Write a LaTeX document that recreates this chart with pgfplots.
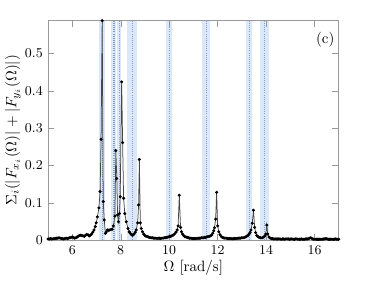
\documentclass[border=0pt]{standalone}
\usepackage{pgfplots}
\usepackage{pgfplotstable}
\pgfplotsset{compat=1.18}
\definecolor{bandblue}{RGB}{218,232,249}
\definecolor{dotblue}{RGB}{140,158,190}
\pgfplotstableread{
x y
5.00 0.003
5.05 0.003
5.10 0.004
5.15 0.003
5.20 0.003
5.25 0.004
5.30 0.004
5.35 0.005
5.40 0.005
5.45 0.006
5.50 0.005
5.55 0.004
5.60 0.004
5.65 0.003
5.70 0.004
5.75 0.005
5.80 0.004
5.85 0.005
5.90 0.006
5.95 0.007
6.00 0.008
6.05 0.007
6.10 0.005
6.15 0.006
6.20 0.008
6.25 0.010
6.30 0.012
6.35 0.013
6.40 0.012
6.45 0.011
6.50 0.010
6.55 0.013
6.60 0.015
6.65 0.014
6.70 0.011
6.75 0.013
6.80 0.016
6.85 0.021
6.90 0.027
6.95 0.036
6.99 0.046
7.04 0.062
7.10 0.086
7.15 0.130
7.19 0.270
7.236 0.588
7.28 0.103
7.32 0.054
7.37 0.018
7.41 0.022
7.45 0.027
7.50 0.026
7.55 0.027
7.60 0.028
7.65 0.029
7.70 0.038
7.76 0.064
7.80 0.240
7.84 0.165
7.87 0.067
7.91 0.049
7.95 0.071
7.98 0.116
8.04 0.424
8.08 0.261
8.12 0.112
8.17 0.071
8.23 0.049
8.30 0.031
8.35 0.022
8.40 0.018
8.45 0.014
8.50 0.013
8.55 0.016
8.60 0.021
8.64 0.027
8.70 0.046
8.74 0.094
8.77 0.216
8.81 0.046
8.85 0.031
8.90 0.022
8.95 0.016
9.00 0.012
9.05 0.010
9.10 0.009
9.15 0.008
9.20 0.007
9.25 0.006
9.30 0.006
9.35 0.005
9.40 0.005
9.45 0.005
9.50 0.004
9.55 0.005
9.60 0.005
9.65 0.004
9.70 0.005
9.75 0.005
9.80 0.006
9.85 0.006
9.90 0.007
9.95 0.008
10.00 0.009
10.05 0.010
10.10 0.011
10.16 0.013
10.22 0.016
10.28 0.021
10.33 0.027
10.37 0.038
10.42 0.120
10.47 0.034
10.51 0.022
10.55 0.016
10.60 0.012
10.65 0.009
10.70 0.008
10.75 0.007
10.80 0.006
10.85 0.005
10.90 0.005
10.95 0.004
11.00 0.004
11.05 0.004
11.10 0.004
11.15 0.004
11.20 0.005
11.25 0.005
11.30 0.005
11.35 0.006
11.40 0.006
11.45 0.007
11.50 0.007
11.55 0.008
11.60 0.009
11.65 0.010
11.70 0.011
11.75 0.013
11.80 0.018
11.84 0.025
11.87 0.033
11.92 0.056
11.96 0.128
12.00 0.038
12.05 0.022
12.10 0.014
12.16 0.009
12.20 0.007
12.25 0.006
12.30 0.005
12.35 0.005
12.40 0.004
12.45 0.004
12.50 0.004
12.55 0.004
12.60 0.003
12.65 0.004
12.70 0.004
12.75 0.004
12.80 0.004
12.85 0.005
12.90 0.005
12.95 0.005
13.00 0.006
13.05 0.006
13.10 0.007
13.15 0.008
13.20 0.010
13.25 0.012
13.29 0.015
13.34 0.020
13.38 0.027
13.43 0.045
13.48 0.080
13.53 0.034
13.57 0.020
13.62 0.012
13.67 0.009
13.72 0.007
13.78 0.006
13.84 0.006
13.90 0.008
13.95 0.011
13.99 0.016
14.03 0.040
14.07 0.016
14.12 0.008
14.17 0.005
14.22 0.004
14.27 0.004
14.32 0.003
14.37 0.003
14.42 0.003
14.47 0.003
14.52 0.003
14.57 0.003
14.62 0.002
14.67 0.003
14.72 0.003
14.77 0.002
14.82 0.003
14.87 0.003
14.92 0.003
14.97 0.002
15.02 0.003
15.07 0.003
15.12 0.002
15.17 0.002
15.22 0.003
15.27 0.003
15.32 0.002
15.37 0.002
15.42 0.002
15.47 0.003
15.52 0.002
15.57 0.002
15.62 0.003
15.67 0.003
15.72 0.003
15.77 0.004
15.82 0.006
15.87 0.005
15.92 0.003
15.97 0.002
16.02 0.002
16.07 0.002
16.12 0.002
16.17 0.002
16.22 0.002
16.27 0.002
16.32 0.002
16.37 0.003
16.42 0.003
16.47 0.004
16.52 0.003
16.57 0.002
16.62 0.002
16.67 0.002
16.72 0.002
16.77 0.002
16.82 0.002
16.87 0.003
16.92 0.002
16.97 0.002
17.00 0.002
}\spectrum
\begin{document}
\begin{tikzpicture}
\useasboundingbox (-32pt,-26.7pt) rectangle (217.3pt,160pt);
\begin{axis}[
  at={(0,0)}, anchor=south west,
  scale only axis, width=193.8pt, height=146.2pt,
  xmin=5, xmax=17, ymin=0, ymax=0.588,
  xtick={6,8,...,16}, ytick={0,0.1,...,0.5},
  yticklabels={0,0.1,0.2,0.3,0.4,0.5},
  tick align=inside,
  axis line style={gray!80},
  major tick style={gray!80},
  tick label style={font=\small},
  xlabel={$\Omega$ [rad/s]},
  ylabel={$\Sigma_i(|F_{x_i}(\Omega)|+|F_{y_i}(\Omega)|)$},
  xlabel style={yshift=3pt},
  ylabel style={yshift=-4pt},
  clip=true,
  axis on top,
]
% bands
\addplot[fill=bandblue, draw=none] coordinates {(7.12,0) (7.36,0) (7.36,0.6) (7.12,0.6)} -- cycle;
\addplot[fill=bandblue, draw=none] coordinates {(7.60,0) (7.80,0) (7.80,0.6) (7.60,0.6)} -- cycle;
\addplot[fill=bandblue, draw=none] coordinates {(7.86,0) (8.03,0) (8.03,0.6) (7.86,0.6)} -- cycle;
\addplot[fill=bandblue, draw=none] coordinates {(8.26,0) (8.67,0) (8.67,0.6) (8.26,0.6)} -- cycle;
\addplot[fill=bandblue, draw=none] coordinates {(9.86,0) (10.12,0) (10.12,0.6) (9.86,0.6)} -- cycle;
\addplot[fill=bandblue, draw=none] coordinates {(11.37,0) (11.70,0) (11.70,0.6) (11.37,0.6)} -- cycle;
\addplot[fill=bandblue, draw=none] coordinates {(13.16,0) (13.43,0) (13.43,0.6) (13.16,0.6)} -- cycle;
\addplot[fill=bandblue, draw=none] coordinates {(13.74,0) (14.14,0) (14.14,0.6) (13.74,0.6)} -- cycle;
% dotted lines
\addplot[dotblue, densely dotted, line width=0.4pt] coordinates {(7.25,0) (7.25,0.6)};
\addplot[dotblue, densely dotted, line width=0.4pt] coordinates {(7.68,0) (7.68,0.6)};
\addplot[dotblue, densely dotted, line width=0.4pt] coordinates {(7.74,0) (7.74,0.6)};
\addplot[dotblue, densely dotted, line width=0.4pt] coordinates {(7.96,0) (7.96,0.6)};
\addplot[dotblue, densely dotted, line width=0.4pt] coordinates {(8.47,0) (8.47,0.6)};
\addplot[dotblue, densely dotted, line width=0.4pt] coordinates {(9.99,0) (9.99,0.6)};
\addplot[dotblue, densely dotted, line width=0.4pt] coordinates {(11.54,0) (11.54,0.6)};
\addplot[dotblue, densely dotted, line width=0.4pt] coordinates {(13.29,0) (13.29,0.6)};
\addplot[dotblue, densely dotted, line width=0.4pt] coordinates {(13.94,0) (13.94,0.6)};
% data
\addplot[gray!55!black, line width=0.5pt, mark=*, mark size=0.75pt, mark options={fill=black, draw=black}] table[x=x,y=y] {\spectrum};
\node at (axis cs:16.44,0.536) {(c)};
\end{axis}
\end{tikzpicture}
\end{document}
